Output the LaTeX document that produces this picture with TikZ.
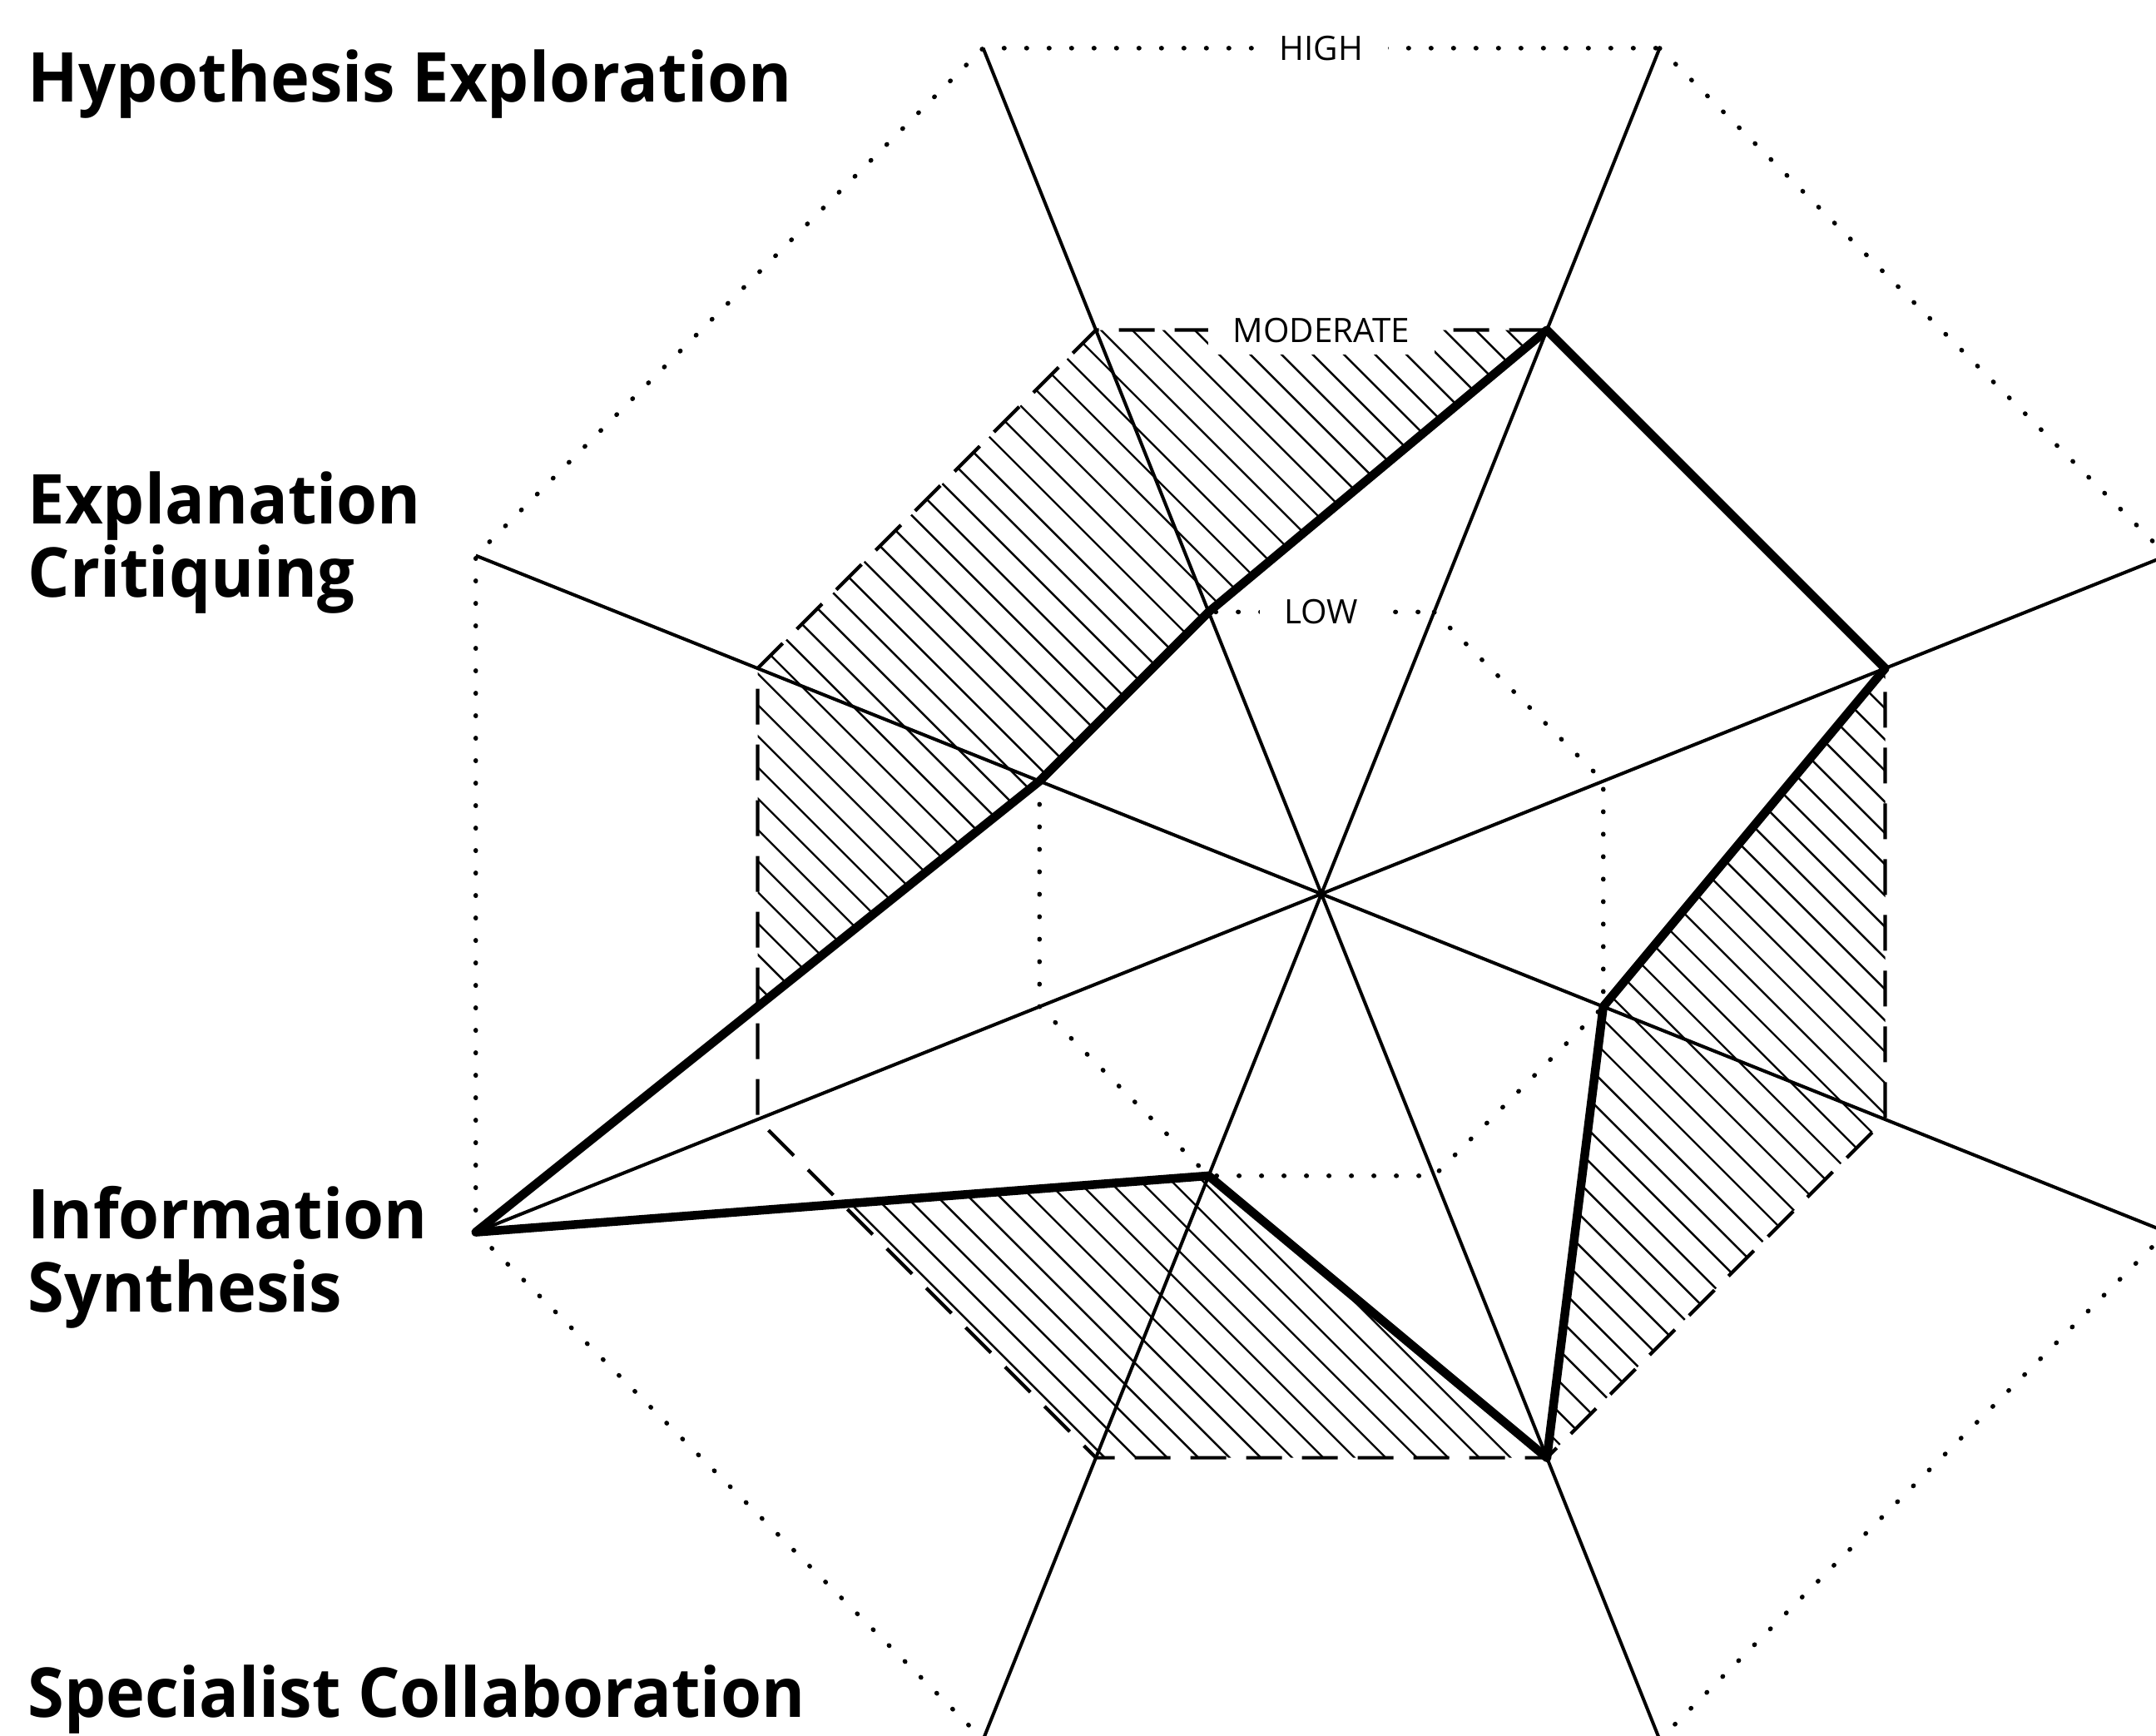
\documentclass[tikz,border=0pt]{standalone}
\usepackage{fontspec}
\setmainfont{Open Sans}[BoldFeatures={FakeStretch=0.96}]
\usetikzlibrary{calc}
\begin{document}
\begin{tikzpicture}[x=0.16524mm,y=-0.16524mm,
  axisline/.style={line width=0.4mm},
  dotline/.style={line width=0.55mm, line cap=round, dash pattern=on 0.05mm off 2.65mm},
  dashline/.style={line width=0.42mm, dash pattern=on 4.3mm off 2.4mm},
  dataline/.style={line width=1.05mm, line join=round},
  hatchline/.style={line width=0.24mm},
  levellabel/.style={fill=white, inner xsep=3mm, inner ysep=1.5mm, font=\fontsize{11.5pt}{12pt}\selectfont},
  biglabel/.style={anchor=base west, inner sep=0pt, font=\fontsize{23.5pt}{25pt}\selectfont\bfseries}
]
\useasboundingbox (0,0) rectangle (1568,1262);
\clip (0,0) rectangle (1568,1262);
\coordinate (C) at (961,650);
\foreach \n/\dx/\dy in {1/82/-205, 2/205/-82, 3/205/82, 4/82/205, 5/-82/205, 6/-205/82, 7/-205/-82, 8/-82/-205} {
  \foreach \k in {1,2,3} {
    \coordinate (L\k-\n) at ($(C)+\k*(\dx,\dy)$);
  }
}
% data values
\coordinate (D1) at (L2-1);
\coordinate (D2) at (L2-2);
\coordinate (D3) at (L1-3);
\coordinate (D4) at (L2-4);
\coordinate (D5) at (L1-5);
\coordinate (D6) at (L3-6);
\coordinate (D7) at (L1-7);
\coordinate (D8) at (L1-8);
% hatching: inside MODERATE, outside the data polygon
\begin{scope}
  \clip (L2-1) -- (L2-2) -- (L2-3) -- (L2-4) -- (L2-5) -- (L2-6) -- (L2-7) -- (L2-8) -- cycle;
  \begin{scope}[even odd rule]
  \clip (-100,-100) rectangle (1700,1400)
    (D1) -- (D2) -- (D3) -- (D4) -- (D5) -- (D6) -- (D7) -- (D8) -- cycle;
  \foreach \i in {-80,...,80} {
    \draw[hatchline] ($(C)+(\i*22.7,0)+(-700,-700)$) -- ++(1400,1400);
  }
  \end{scope}
\end{scope}
% level octagons
\draw[dotline] (L3-1) -- (L3-2) -- (L3-3) -- (L3-4) -- (L3-5) -- (L3-6) -- (L3-7) -- (L3-8) -- cycle;
\draw[dashline] (L2-1) -- (L2-2) -- (L2-3) -- (L2-4) -- (L2-5) -- (L2-6) -- (L2-7) -- (L2-8) -- cycle;
\draw[dotline] (L1-1) -- (L1-2) -- (L1-3) -- (L1-4) -- (L1-5) -- (L1-6) -- (L1-7) -- (L1-8) -- cycle;
% axes
\draw[axisline] (L3-1) -- (L3-5);
\draw[axisline] (L3-2) -- (L3-6);
\draw[axisline] (L3-3) -- (L3-7);
\draw[axisline] (L3-4) -- (L3-8);
% level labels
\node[levellabel] (high) at ($(C)+(0,-615)$) {HIGH};
\node[levellabel] (moderate) at ($(C)+(0,-410)$) {MODERATE};
\node[levellabel] (low) at ($(C)+(0,-205)$) {LOW};
% data polygon
\draw[dataline] (D1) -- (D2) -- (D3) -- (D4) -- (D5) -- (D6) -- (D7) -- (D8) -- cycle;
% category labels
\node[biglabel] (hyp) at (20,74) {Hypothesis Exploration};
\node[biglabel] (expl1) at (20,381) {Explanation};
\node[biglabel] (expl2) at (20,434.5) {Critiquing};
\node[biglabel] (info1) at (20,901) {Information};
\node[biglabel] (info2) at (20,954) {Synthesis};
\node[biglabel] (spec) at (20,1249) {Specialist Collaboration};
\end{tikzpicture}
\end{document}
